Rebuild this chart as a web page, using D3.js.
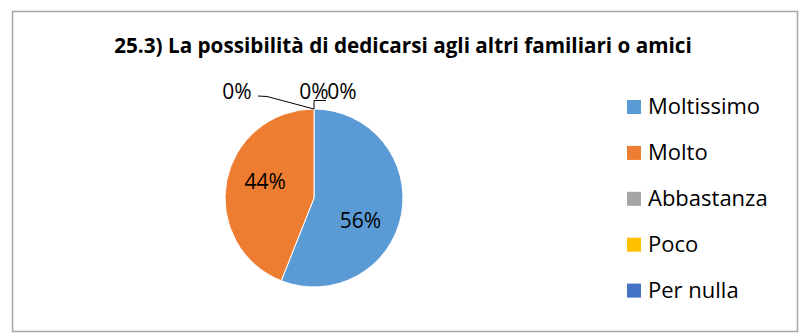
<!DOCTYPE html>
<html>
<head>
<meta charset="utf-8">
<script src="https://cdn.jsdelivr.net/npm/d3@7"></script>
<style>
  html, body { margin: 0; padding: 0; background: #fff; }
  svg { display: block; }
  text { font-family: "Open Sans", "Liberation Sans", sans-serif; fill: #000; }
</style>
</head>
<body>
<svg id="chart" width="800" height="334"></svg>
<script>
// Survey answers and their shares (%)
const title = "25.3) La possibilità di dedicarsi agli altri familiari o amici";
const categories = ["Moltissimo", "Molto", "Abbastanza", "Poco", "Per nulla"];
const values = [56, 44, 0, 0, 0];
const colors = ["#5B9BD5", "#ED7D31", "#A5A5A5", "#FFC000", "#4472C4"];

const svg = d3.select("#chart");

// Frame
svg.append("rect")
  .attr("x", 12.5).attr("y", 11.5)
  .attr("width", 785).attr("height", 320)
  .attr("fill", "#fff")
  .attr("stroke", "#a6a6a6")
  .attr("stroke-width", 1.5);

// Title
svg.append("text")
  .attr("x", 403).attr("y", 53)
  .attr("text-anchor", "middle")
  .style("font-weight", "bold")
  .style("font-size", "20.7px")
  .text(title);

// Pie
const cx = 314, cy = 198, r = 89;
const data = categories.map((c, i) => ({ cat: c, value: values[i], color: colors[i] }));
const pie = d3.pie().value(d => d.value).sort(null);
const arcs = pie(data);
const arc = d3.arc().innerRadius(0).outerRadius(r);

const g = svg.append("g").attr("transform", `translate(${cx},${cy})`);
g.selectAll("path.slice")
  .data(arcs.filter(a => a.data.value > 0))
  .join("path")
  .attr("class", "slice")
  .attr("d", arc)
  .attr("fill", d => d.data.color)
  .attr("stroke", "#fff")
  .attr("stroke-width", 1);

const fmt = v => Math.round(v) + "%";

// Labels inside the non-empty slices (best-fit style, shifted clockwise a little)
const inner = arcs.filter(a => a.data.value > 0);
const shift = [0.26, 0.14];
g.selectAll("text.in")
  .data(inner)
  .join("text")
  .attr("class", "in")
  .attr("text-anchor", "middle")
  .attr("dy", "0.36em")
  .style("font-size", "21px")
  .attr("transform", (d, i) => {
    const a = (d.startAngle + d.endAngle) / 2 + shift[i];
    const rr = r * 0.58;
    return `translate(${Math.sin(a) * rr},${-Math.cos(a) * rr})`;
  })
  .text(d => fmt(d.data.value));

// Empty slices sit at the top of the pie; their labels are set outside with leaders
const empty = arcs.filter(a => a.data.value === 0);
const anchor = [Math.sin(empty[0].startAngle) * r, -Math.cos(empty[0].startAngle) * r];
// label centre offsets relative to the anchor point on the rim
const outOff = [[-77, -18], [0, -18], [28, -18]];
empty.forEach((d, i) => {
  g.append("text")
    .attr("x", anchor[0] + outOff[i][0]).attr("y", anchor[1] + outOff[i][1])
    .attr("text-anchor", "middle")
    .attr("dy", "0.36em")
    .style("font-size", "21px")
    .text(fmt(d.data.value));
});
// leaders
const line = d3.line();
g.append("path")
  .attr("d", line([[anchor[0] - 56, anchor[1] - 13], [anchor[0] - 47, anchor[1] - 12.5], anchor]))
  .attr("fill", "none").attr("stroke", "#000").attr("stroke-width", 1);
g.append("path")
  .attr("d", line([anchor, [anchor[0], anchor[1] - 8.5], [anchor[0] + 12, anchor[1] - 8.5]]))
  .attr("fill", "none").attr("stroke", "#000").attr("stroke-width", 1);

// Legend
const legend = svg.append("g").attr("transform", "translate(627,0)");
const rows = legend.selectAll("g")
  .data(data)
  .join("g")
  .attr("transform", (d, i) => `translate(0,${114 + i * 45.9})`);
rows.append("rect")
  .attr("x", 0).attr("y", -14)
  .attr("width", 14).attr("height", 14)
  .attr("fill", d => d.color);
rows.append("text")
  .attr("x", 21).attr("y", 0)
  .style("font-size", "22px")
  .text(d => d.cat);
</script>
</body>
</html>
